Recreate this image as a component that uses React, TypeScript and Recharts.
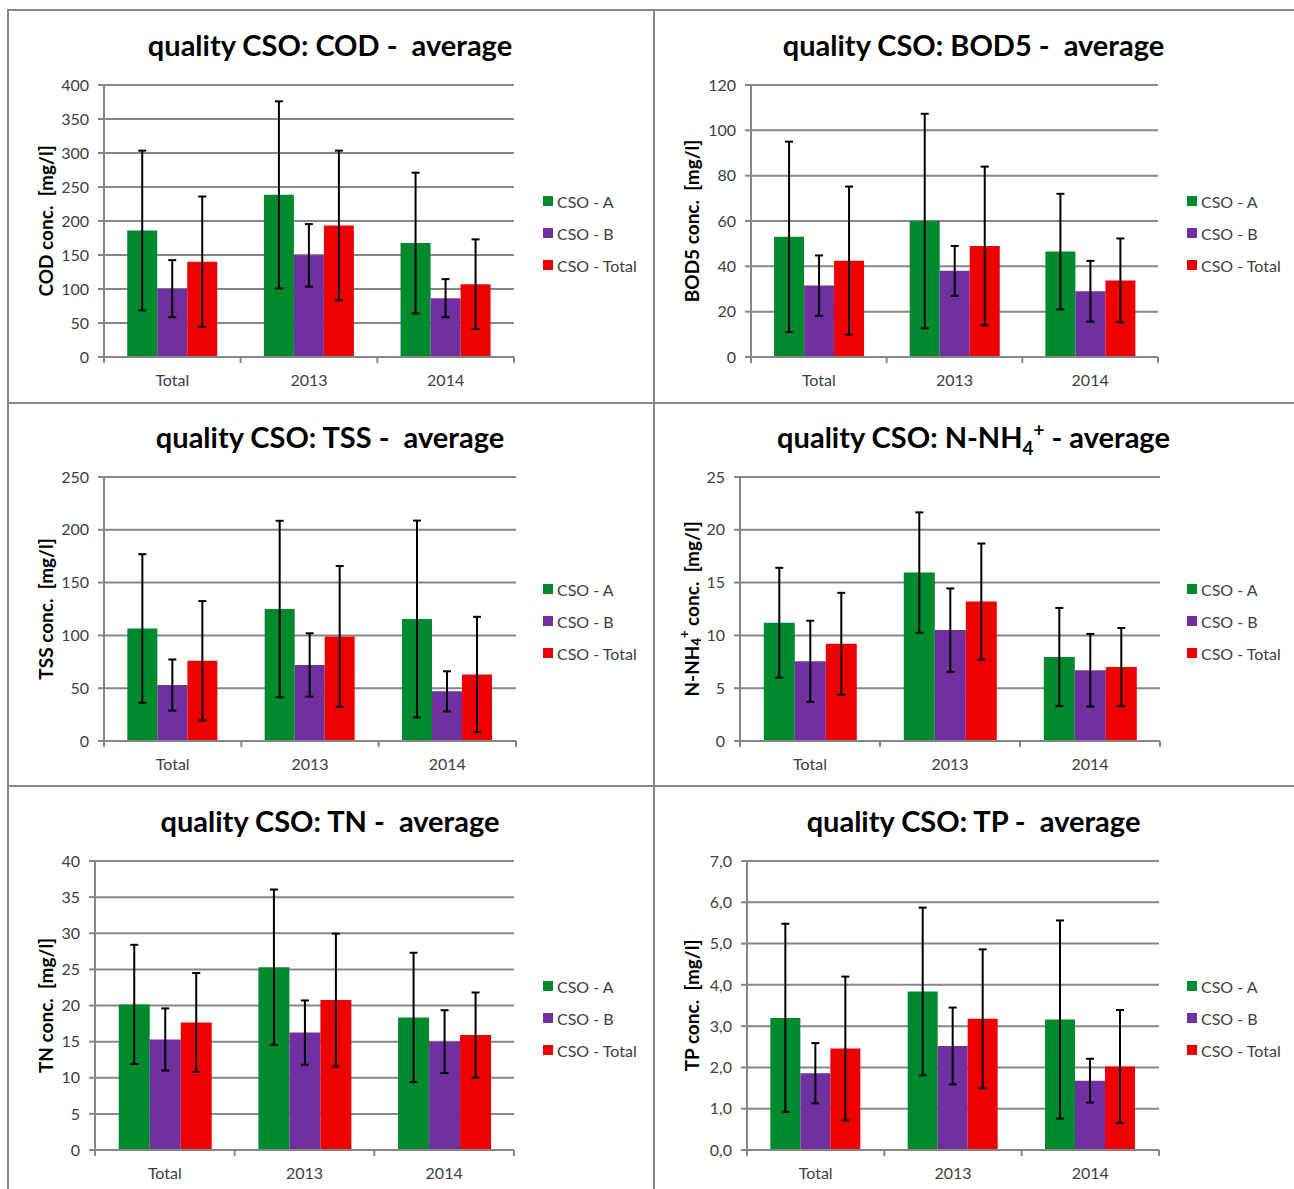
import React from 'react';
import { BarChart, Bar, XAxis, YAxis, CartesianGrid, Legend, ErrorBar } from 'recharts';

const CATEGORIES = ['Total', '2013', '2014'];
const SERIES = ['CSO - A', 'CSO - B', 'CSO - Total'];
const COLORS = ['#008a2e', '#7030a0', '#ee0000'];

// COD
const codA = [186, 238.5, 167.5];
const codB = [100.5, 149.5, 86.5];
const codTot = [140, 193.5, 107];
const codSdA = [117.5, 137.5, 103.5];
const codSdB = [42, 46, 28];
const codSdTot = [96, 110, 66];
const codTicks = [0, 50, 100, 150, 200, 250, 300, 350, 400];

// BOD5
const bodA = [53, 60, 46.5];
const bodB = [31.5, 38, 29];
const bodTot = [42.5, 49, 33.8];
const bodSdA = [42, 47.3, 25.5];
const bodSdB = [13.3, 11, 13.4];
const bodSdTot = [32.7, 35, 18.5];
const bodTicks = [0, 20, 40, 60, 80, 100, 120];

// TSS
const tssA = [106.5, 125, 115.5];
const tssB = [53, 72, 47];
const tssTot = [76, 99, 63];
const tssSdA = [70.4, 83.5, 93.2];
const tssSdB = [24.2, 30, 19];
const tssSdTot = [56.5, 66.7, 54.6];
const tssTicks = [0, 50, 100, 150, 200, 250];

// N-NH4+
const nhA = [11.2, 15.95, 7.95];
const nhB = [7.55, 10.5, 6.7];
const nhTot = [9.2, 13.2, 7.0];
const nhSdA = [5.2, 5.7, 4.65];
const nhSdB = [3.84, 3.95, 3.44];
const nhSdTot = [4.83, 5.5, 3.7];
const nhTicks = [0, 5, 10, 15, 20, 25];

// TN
const tnA = [20.15, 25.3, 18.35];
const tnB = [15.3, 16.25, 15];
const tnTot = [17.65, 20.75, 15.9];
const tnSdA = [8.25, 10.75, 8.95];
const tnSdB = [4.3, 4.45, 4.35];
const tnSdTot = [6.85, 9.2, 5.9];
const tnTicks = [0, 5, 10, 15, 20, 25, 30, 35, 40];

// TP
const tpA = [3.2, 3.84, 3.16];
const tpB = [1.86, 2.52, 1.68];
const tpTot = [2.46, 3.18, 2.02];
const tpSdA = [2.28, 2.03, 2.4];
const tpSdB = [0.73, 0.93, 0.53];
const tpSdTot = [1.74, 1.68, 1.37];
const tpTicks = [0, 1, 2, 3, 4, 5, 6, 7];

const FONT = 'Lato, "Open Sans", sans-serif';
const GRID = '#878787';
const TICK = '#404040';

const rows = (a: number[], b: number[], t: number[], ea: number[], eb: number[], et: number[]) =>
  CATEGORIES.map((name, i) => ({ name, a: a[i], b: b[i], t: t[i], ea: ea[i], eb: eb[i], et: et[i] }));

const sub = { fontSize: '65%', verticalAlign: 'sub', lineHeight: 0 } as const;
const sup = { fontSize: '65%', verticalAlign: 'super', lineHeight: 0 } as const;

const panels = [
  {
    id: 'cod', left: 7, top: 10, w: 646, h: 393, titleY: 35,
    title: <>quality CSO: COD -  average</>,
    yLabel: 'COD conc.  [mg/l]',
    plot: { l: 97, r: 507, t: 75, b: 347 }, legend: { x: 536, y: 175 },
    data: rows(codA, codB, codTot, codSdA, codSdB, codSdTot), ticks: codTicks,
  },
  {
    id: 'bod', left: 653, top: 10, w: 641, h: 393, titleY: 35,
    title: <>quality CSO: BOD5 -  average</>,
    yLabel: 'BOD5 conc.  [mg/l]',
    plot: { l: 98, r: 505, t: 75, b: 347 }, legend: { x: 534, y: 175 },
    data: rows(bodA, bodB, bodTot, bodSdA, bodSdB, bodSdTot), ticks: bodTicks,
  },
  {
    id: 'tss', left: 7, top: 403, w: 646, h: 383, titleY: 34,
    title: <>quality CSO: TSS -  average</>,
    yLabel: 'TSS conc.  [mg/l]',
    plot: { l: 97, r: 509, t: 74, b: 338 }, legend: { x: 536, y: 170 },
    data: rows(tssA, tssB, tssTot, tssSdA, tssSdB, tssSdTot), ticks: tssTicks,
  },
  {
    id: 'nh4', left: 653, top: 403, w: 641, h: 383, titleY: 34,
    title: <>quality CSO: N-NH<span style={sub}>4</span><span style={sup}>+</span> - average</>,
    yLabel: 'nh4',
    plot: { l: 87, r: 507, t: 74, b: 338 }, legend: { x: 534, y: 170 },
    data: rows(nhA, nhB, nhTot, nhSdA, nhSdB, nhSdTot), ticks: nhTicks,
  },
  {
    id: 'tn', left: 7, top: 786, w: 646, h: 410, titleY: 35,
    title: <>quality CSO: TN -  average</>,
    yLabel: 'TN conc.  [mg/l]',
    plot: { l: 88, r: 507, t: 75, b: 364 }, legend: { x: 536, y: 184 },
    data: rows(tnA, tnB, tnTot, tnSdA, tnSdB, tnSdTot), ticks: tnTicks,
  },
  {
    id: 'tp', left: 653, top: 786, w: 641, h: 410, titleY: 35,
    title: <>quality CSO: TP -  average</>,
    yLabel: 'TP conc.  [mg/l]',
    plot: { l: 94, r: 506, t: 75, b: 364 }, legend: { x: 534, y: 184 },
    data: rows(tpA, tpB, tpTot, tpSdA, tpSdB, tpSdTot), ticks: tpTicks, comma: true,
  },
];

const Y_AXIS_W = 60;
const X_AXIS_H = 30;

const CatTick = (props: any) => {
  const { x, y, payload, index, band } = props;
  return (
    <g>
      <line x1={x - band / 2} y1={y} x2={x - band / 2} y2={y + 6} stroke={GRID} strokeWidth={2} />
      {index === CATEGORIES.length - 1 && (
        <line x1={x + band / 2} y1={y} x2={x + band / 2} y2={y + 6} stroke={GRID} strokeWidth={2} />
      )}
      <text x={x} y={y + 29} textAnchor="middle" fill={TICK} fontSize={16} fontFamily={FONT}>
        {payload.value}
      </text>
    </g>
  );
};

const YTitle = (props: any) => {
  const { viewBox, label } = props;
  const x = 38;
  const cy = viewBox.y + viewBox.height / 2;
  return (
    <text
      x={x} y={cy} transform={`rotate(-90 ${x} ${cy})`} textAnchor="middle" dominantBaseline="central"
      fontSize={19} fontWeight="bold" fill="#000" fontFamily={FONT} style={{ whiteSpace: 'pre' }}
    >
      {label === 'nh4' ? (
        <>
          N-NH<tspan fontSize={13} dy={5}>4</tspan>
          <tspan fontSize={13} dy={-12}>+</tspan>
          <tspan dy={7}> conc.  [mg/l]</tspan>
        </>
      ) : label}
    </text>
  );
};

const LegendBox = (props: any) => {
  const { payload } = props;
  return (
    <div style={{ fontFamily: FONT, fontSize: 16, color: TICK }}>
      {(payload || []).map((p: any) => (
        <div key={p.value} style={{ height: 32, display: 'flex', alignItems: 'center' }}>
          <span style={{ width: 10, height: 10, background: p.color, marginRight: 4, display: 'inline-block' }} />
          <span>{p.value}</span>
        </div>
      ))}
    </div>
  );
};

const Panel = ({ cfg }: { cfg: any }) => {
  const { plot, w, h } = cfg;
  const band = (plot.r - plot.l) / CATEGORIES.length;
  const fmt = (v: number) => (cfg.comma ? v.toFixed(1).replace('.', ',') : String(v));
  return (
    <div style={{ position: 'absolute', left: cfg.left, top: cfg.top, width: w, height: h }}>
      <div
        style={{
          position: 'absolute', left: 0, top: cfg.titleY - 18, width: w, height: 36, lineHeight: '36px',
          textAlign: 'center', fontFamily: FONT, fontWeight: 'bold', fontSize: 29, whiteSpace: 'pre', color: '#000',
        }}
      >
        {cfg.title}
      </div>
      <BarChart
        width={w}
        height={h}
        data={cfg.data}
        margin={{ top: plot.t, right: w - plot.r, left: plot.l - Y_AXIS_W, bottom: h - plot.b - X_AXIS_H }}
        barCategoryGap="17%"
        barGap={0}
      >
        <CartesianGrid vertical={false} stroke={GRID} strokeWidth={2} />
        <XAxis
          dataKey="name"
          height={X_AXIS_H}
          axisLine={{ stroke: GRID, strokeWidth: 2 }}
          tickLine={false}
          tickSize={0}
          tickMargin={0}
          interval={0}
          tick={(p: any) => <CatTick {...p} band={band} />}
        />
        <YAxis
          width={Y_AXIS_W}
          domain={[0, cfg.ticks[cfg.ticks.length - 1]]}
          ticks={cfg.ticks}
          interval={0}
          tickFormatter={fmt}
          axisLine={{ stroke: GRID, strokeWidth: 2 }}
          tickLine={{ stroke: GRID, strokeWidth: 2 }}
          tickSize={6}
          tickMargin={9}
          tick={{ fill: TICK, fontSize: 16, fontFamily: FONT }}
          label={(p: any) => <YTitle {...p} label={cfg.yLabel} />}
        />
        <Legend
          layout="horizontal"
          align="center"
          verticalAlign="middle"
          wrapperStyle={{ left: cfg.legend.x, top: cfg.legend.y, width: 110 }}
          content={(p: any) => <LegendBox {...p} />}
        />
        <Bar dataKey="a" name={SERIES[0]} fill={COLORS[0]} isAnimationActive={false}>
          <ErrorBar dataKey="ea" width={4} strokeWidth={2} stroke="#000" isAnimationActive={false} />
        </Bar>
        <Bar dataKey="b" name={SERIES[1]} fill={COLORS[1]} isAnimationActive={false}>
          <ErrorBar dataKey="eb" width={4} strokeWidth={2} stroke="#000" isAnimationActive={false} />
        </Bar>
        <Bar dataKey="t" name={SERIES[2]} fill={COLORS[2]} isAnimationActive={false}>
          <ErrorBar dataKey="et" width={4} strokeWidth={2} stroke="#000" isAnimationActive={false} />
        </Bar>
      </BarChart>
    </div>
  );
};

const line = (left: number, top: number, width: number, height: number) => (
  <div style={{ position: 'absolute', left, top, width, height, background: GRID }} />
);

export default function App() {
  return (
    <div style={{ position: 'absolute', left: 0, top: 0, width: 1294, height: 1189, background: '#fff', overflow: 'hidden' }}>
      {panels.map((cfg) => (
        <Panel key={cfg.id} cfg={cfg} />
      ))}
      {line(7, 9, 1287, 2)}
      {line(7, 9, 2, 1180)}
      {line(653, 9, 2, 1180)}
      {line(7, 402, 1287, 2)}
      {line(7, 785, 1287, 2)}
    </div>
  );
}
